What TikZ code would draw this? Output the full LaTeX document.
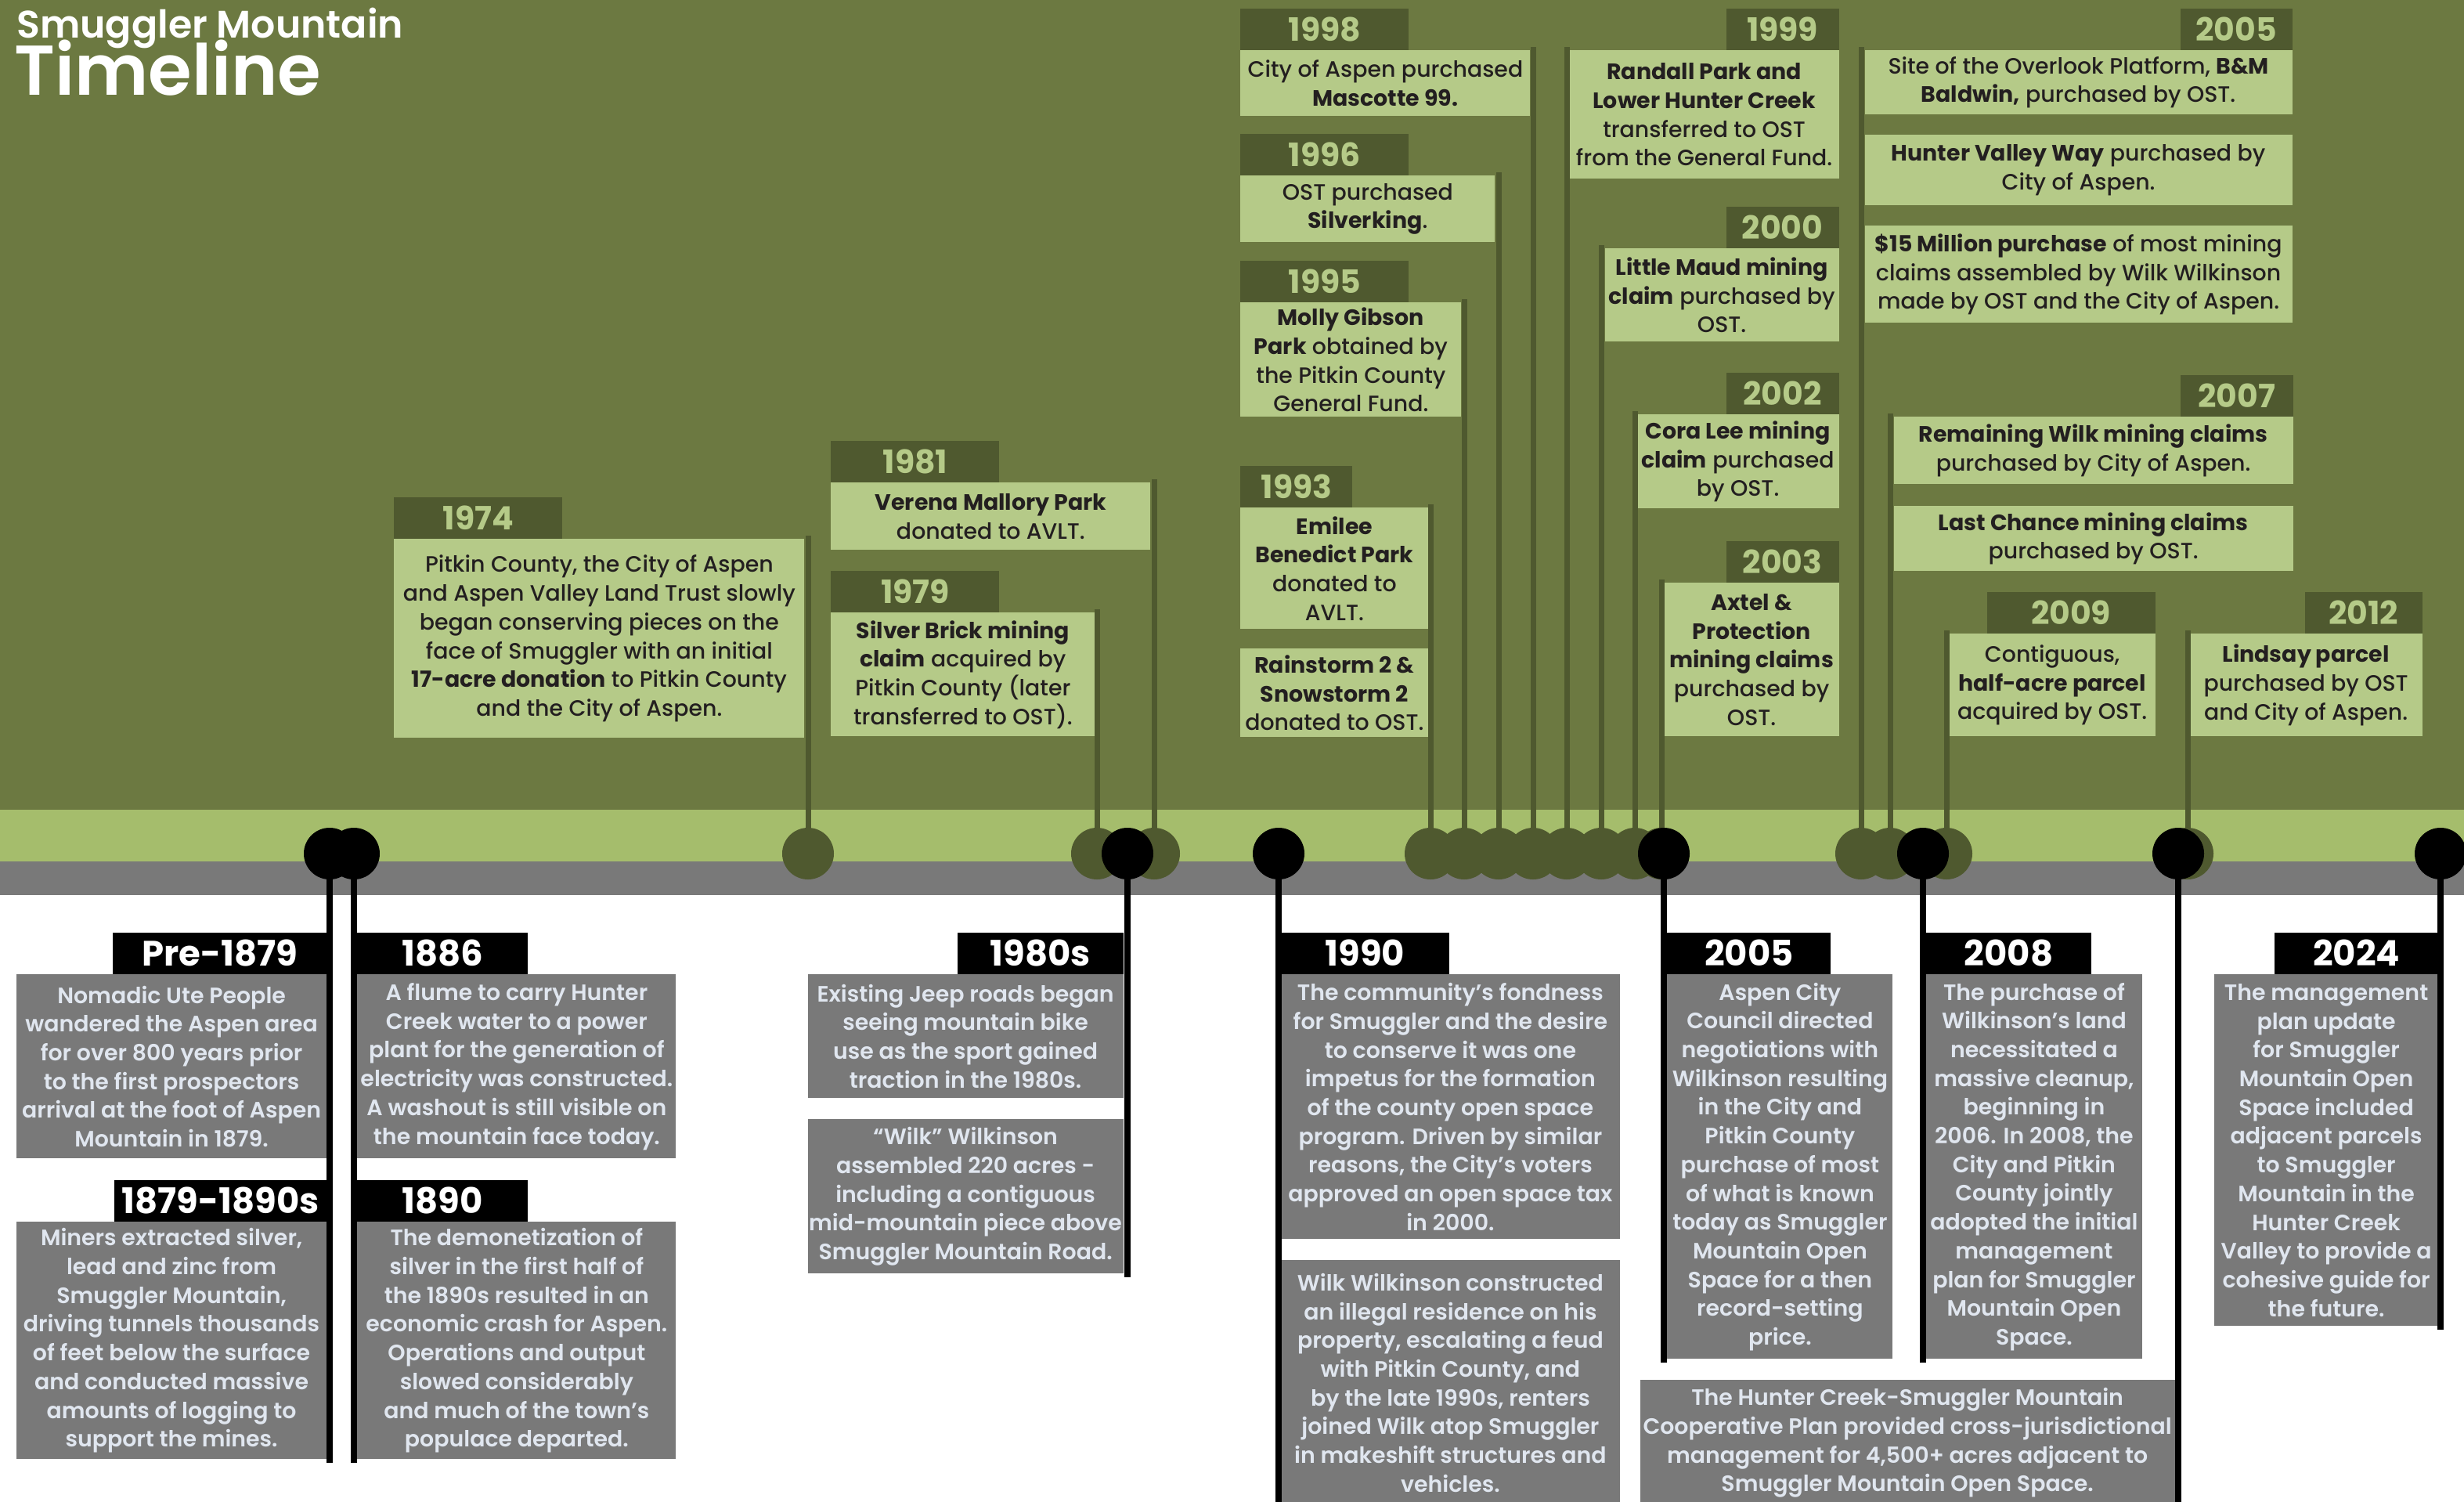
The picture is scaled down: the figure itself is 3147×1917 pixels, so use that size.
\documentclass[tikz,border=0pt]{standalone}
\usepackage{fontspec}
\setmainfont{Poppins}[UprightFont=* Medium, BoldFont=* Bold]
\newfontfamily\smsemi{Poppins}[UprightFont=* SemiBold, BoldFont=* Bold]

\definecolor{smolive}{RGB}{108,121,65}
\definecolor{smtab}{RGB}{79,89,47}
\definecolor{smbox}{RGB}{181,202,136}
\definecolor{smband}{RGB}{165,189,108}
\definecolor{smgray}{RGB}{121,121,121}
\definecolor{smink}{RGB}{35,31,32}
\definecolor{smpale}{RGB}{224,230,239}

\newcommand\smbody{\fontsize{14.2}{18.35}\selectfont}
\newcommand\smyear{\fontsize{20.5}{22}\selectfont\bfseries}
\newcommand\smdate{\fontsize{22.5}{24}\selectfont\bfseries}

\begin{document}
\begin{tikzpicture}[x=0.5pt, y=-0.5pt,
  tbox/.style={fill=smbox, text=smink, font=\smbody, align=center, inner sep=0pt},
  gbox/.style={fill=smgray, text=smpale, font=\smsemi\smbody, align=center, inner sep=0pt},
  ytab/.style={fill=smtab, text=smbox, font=\smyear, inner sep=0pt, minimum height=26.5pt},
  ktab/.style={fill=black, text=white, font=\smdate, inner sep=0pt, minimum height=26.5pt},
  gline/.style={draw=smtab, line width=3.5pt, shorten >=-2pt},
  kline/.style={draw=black, line width=4pt, shorten >=-2pt}]

  % Canvas and bands
  \useasboundingbox (0,0) rectangle (3147,1917);
  \clip (0,0) rectangle (3147,1917);
  \fill[white] (0,0) rectangle (3147,1917);
  \fill[smolive] (0,0) rectangle (3147,1034);
  \fill[smband] (0,1034) rectangle (3147,1100);
  \fill[smgray] (0,1100) rectangle (3147,1143);

  % Title
  \node[anchor=base west, inner sep=0pt, text=white, font=\smsemi\fontsize{24.5}{26}\selectfont] (title) at (21,48) {Smuggler Mountain};
  \node[anchor=base west, inner sep=0pt, text=white, font=\smsemi\fontsize{45}{50}\selectfont] (subtitle) at (18,121) {Timeline};

  % 1974
  \node[tbox, minimum width=262pt, minimum height=127pt, anchor=north west] (b1974) at (503,688) {Pitkin County, the City of Aspen\\and Aspen Valley Land Trust slowly\\began conserving pieces on the\\face of Smuggler with an initial\\\textbf{17-acre donation} to Pitkin County\\and the City of Aspen.};
  \node[ytab, minimum width=107.5pt, anchor=south west] (y1974) at (b1974.north west) {1974};

  % 1981 and 1979
  \node[tbox, minimum width=204pt, minimum height=43pt, anchor=north west] (b1981) at (1061,616) {\textbf{Verena Mallory Park}\\donated to AVLT.};
  \node[ytab, minimum width=107.5pt, anchor=south west] (y1981) at (b1981.north west) {1981};
  \node[tbox, minimum width=168.5pt, minimum height=79pt, anchor=north west] (b1979) at (1061,782) {\textbf{Silver Brick mining}\\\textbf{claim} acquired by\\Pitkin County (later\\transferred to OST).};
  \node[ytab, minimum width=107.5pt, anchor=south west] (y1979) at (b1979.north west) {1979};

  % 1993 to 1998
  \node[tbox, minimum width=120pt, minimum height=77.5pt, anchor=north west] (b1993) at (1584,648) {\textbf{Emilee}\\\textbf{Benedict Park}\\donated to\\AVLT.};
  \node[ytab, minimum width=71.5pt, anchor=south west] (y1993) at (b1993.north west) {1993};
  \node[tbox, minimum width=120pt, minimum height=56.5pt, anchor=north west] (b1993b) at (1584,828) {\textbf{Rainstorm 2 \&}\\\textbf{Snowstorm 2}\\donated to OST.};
  \node[tbox, minimum width=141pt, minimum height=73pt, anchor=north west] (b1995) at (1584,386) {\textbf{Molly Gibson}\\\textbf{Park} obtained by\\the Pitkin County\\General Fund.};
  \node[ytab, minimum width=107.5pt, anchor=south west] (y1995) at (b1995.north west) {1995};
  \node[tbox, minimum width=162.5pt, minimum height=42.5pt, anchor=north west] (b1996) at (1584,224) {OST purchased\\\textbf{Silverking}.};
  \node[ytab, minimum width=107.5pt, anchor=south west] (y1996) at (b1996.north west) {1996};
  \node[tbox, minimum width=185pt, minimum height=42pt, anchor=north west] (b1998) at (1584,64) {City of Aspen purchased\\\textbf{Mascotte 99.}};
  \node[ytab, minimum width=107.5pt, anchor=south west] (y1998) at (b1998.north west) {1998};

  % 1999 to 2003
  \node[tbox, minimum width=172pt, minimum height=82pt, anchor=north east] (b1999) at (2349,64) {\textbf{Randall Park and}\\\textbf{Lower Hunter Creek}\\transferred to OST\\from the General Fund.};
  \node[ytab, minimum width=72pt, anchor=south east] (y1999) at (b1999.north east) {1999};
  \node[tbox, minimum width=149.5pt, minimum height=59.5pt, anchor=north east] (b2000) at (2349,317) {\textbf{Little Maud mining}\\\textbf{claim} purchased by\\OST.};
  \node[ytab, minimum width=72pt, anchor=south east] (y2000) at (b2000.north east) {2000};
  \node[tbox, minimum width=129pt, minimum height=60pt, anchor=north east] (b2002) at (2349,529) {\textbf{Cora Lee mining}\\\textbf{claim} purchased\\by OST.};
  \node[ytab, minimum width=72pt, anchor=south east] (y2002) at (b2002.north east) {2002};
  \node[tbox, minimum width=111.5pt, minimum height=98pt, anchor=north east] (b2003) at (2349,744) {\textbf{Axtel \&}\\\textbf{Protection}\\\textbf{mining claims}\\purchased by\\OST.};
  \node[ytab, minimum width=72pt, anchor=south east] (y2003) at (b2003.north east) {2003};

  % 2005 and 2007
  \node[tbox, minimum width=273pt, minimum height=41pt, anchor=north east] (b2005) at (2928,64) {Site of the Overlook Platform, \textbf{B\&M}\\\textbf{Baldwin,} purchased by OST.};
  \node[ytab, minimum width=71.5pt, anchor=south east] (y2005) at (b2005.north east) {2005};
  \node[tbox, minimum width=273pt, minimum height=45pt, anchor=north east] (b2005b) at (2928,172) {\textbf{Hunter Valley Way} purchased by\\City of Aspen.};
  \node[tbox, minimum width=273pt, minimum height=62pt, anchor=north east] (b2005c) at (2928,288) {\textbf{\$15 Million purchase} of most mining\\claims assembled by Wilk Wilkinson\\made by OST and the City of Aspen.};
  \node[tbox, minimum width=255pt, minimum height=43pt, anchor=north east] (b2007) at (2929,532) {\textbf{Remaining Wilk mining claims}\\purchased by City of Aspen.};
  \node[ytab, minimum width=72pt, anchor=south east] (y2007) at (b2007.north east) {2007};
  \node[tbox, minimum width=255pt, minimum height=41.5pt, anchor=north east] (b2007b) at (2929,646) {\textbf{Last Chance mining claims}\\purchased by OST.};

  % 2009 and 2012
  \node[tbox, minimum width=131.5pt, minimum height=65.5pt, anchor=north east] (b2009) at (2753,809) {Contiguous,\\\textbf{half-acre parcel}\\acquired by OST.};
  \node[ytab, minimum width=107.5pt, anchor=south east] (y2009) at (b2009.north east) {2009};
  \node[tbox, minimum width=148.5pt, minimum height=65.5pt, anchor=north east] (b2012) at (3094,809) {\textbf{Lindsay parcel}\\purchased by OST\\and City of Aspen.};
  \node[ytab, minimum width=75pt, anchor=south east] (y2012) at (b2012.north east) {2012};

  % Pre-1879 and 1879-1890s
  \node[gbox, minimum width=198.5pt, minimum height=117.5pt, anchor=north east] (cpre) at (418,1244) {Nomadic Ute People\\wandered the Aspen area\\for over 800 years prior\\to the first prospectors\\arrival at the foot of Aspen\\Mountain in 1879.};
  \node[ktab, minimum width=137pt, anchor=south east] (tpre) at (cpre.north east) {Pre-1879};
  \node[gbox, minimum width=198.5pt, minimum height=151.5pt, anchor=north east] (c1879) at (418,1560) {Miners extracted silver,\\lead and zinc from\\Smuggler Mountain,\\driving tunnels thousands\\of feet below the surface\\and conducted massive\\amounts of logging to\\support the mines.};
  \node[ktab, minimum width=136pt, anchor=south east] (t1879) at (c1879.north east) {1879-1890s};

  % 1886 and 1890
  \node[gbox, minimum width=203.5pt, minimum height=117.5pt, anchor=north west] (c1886) at (456,1244) {A flume to carry Hunter\\Creek water to a power\\plant for the generation of\\electricity was constructed.\\A washout is still visible on\\the mountain face today.};
  \node[ktab, minimum width=109pt, anchor=south west] (t1886) at (c1886.north west) {1886};
  \node[gbox, minimum width=203.5pt, minimum height=151.5pt, anchor=north west] (c1890) at (456,1560) {The demonetization of\\silver in the first half of\\the 1890s resulted in an\\economic crash for Aspen.\\Operations and output\\slowed considerably\\and much of the town’s\\populace departed.};
  \node[ktab, minimum width=109pt, anchor=south west] (t1890) at (c1890.north west) {1890};

  % 1980s
  \node[gbox, minimum width=201.5pt, minimum height=79pt, anchor=north east] (c1980a) at (1435,1244) {Existing Jeep roads began\\seeing mountain bike\\use as the sport gained\\traction in the 1980s.};
  \node[ktab, minimum width=106pt, anchor=south east] (t1980) at (c1980a.north east) {1980s};
  \node[gbox, minimum width=201.5pt, minimum height=98.5pt, anchor=north east] (c1980b) at (1435,1429) {“Wilk” Wilkinson\\assembled 220 acres -\\including a contiguous\\mid-mountain piece above\\Smuggler Mountain Road.};

  % 1990
  \node[gbox, minimum width=217pt, minimum height=169pt, anchor=north west] (c1990a) at (1635,1244) {The community’s fondness\\for Smuggler and the desire\\to conserve it was one\\impetus for the formation\\of the county open space\\program. Driven by similar\\reasons, the City’s voters\\approved an open space tax\\in 2000.};
  \node[ktab, minimum width=108pt, anchor=south west] (t1990) at (c1990a.north west) {1990};
  \node[gbox, minimum width=217pt, minimum height=156.5pt, anchor=north west] (c1990b) at (1635,1609) {Wilk Wilkinson constructed\\an illegal residence on his\\property, escalating a feud\\with Pitkin County, and\\by the late 1990s, renters\\joined Wilk atop Smuggler\\in makeshift structures and\\vehicles.};

  % 2005 and 2008
  \node[gbox, minimum width=144pt, minimum height=245.5pt, anchor=north west] (c2005) at (2129,1244) {Aspen City\\Council directed\\negotiations with\\Wilkinson resulting\\in the City and\\Pitkin County\\purchase of most\\of what is known\\today as Smuggler\\Mountain Open\\Space for a then\\record-setting\\price.};
  \node[ktab, minimum width=104.5pt, anchor=south west] (t2005) at (c2005.north west) {2005};
  \node[gbox, minimum width=138.5pt, minimum height=245.5pt, anchor=north west] (c2008) at (2459,1244) {The purchase of\\Wilkinson’s land\\necessitated a\\massive cleanup,\\beginning in\\2006. In 2008, the\\City and Pitkin\\County jointly\\adopted the initial\\management\\plan for Smuggler\\Mountain Open\\Space.};
  \node[ktab, minimum width=106pt, anchor=south west] (t2008) at (c2008.north west) {2008};

  % Cooperative plan
  \node[gbox, minimum width=341.5pt, minimum height=80pt, anchor=north east] (cplan) at (2778,1762) {The Hunter Creek-Smuggler Mountain\\Cooperative Plan provided cross-jurisdictional\\management for 4,500+ acres adjacent to\\Smuggler Mountain Open Space.};

  % 2024
  \node[gbox, minimum width=143.5pt, minimum height=224.5pt, anchor=north east] (c2024) at (3115,1244) {The management\\plan update\\for Smuggler\\Mountain Open\\Space included\\adjacent parcels\\to Smuggler\\Mountain in the\\Hunter Creek\\Valley to provide a\\cohesive guide for\\the future.};
  \node[ktab, minimum width=105pt, anchor=south east] (t2024) at (c2024.north east) {2024};

  % Points on the band
  \coordinate (d1974) at (1032,1090);
  \coordinate (d1979) at (1401,1090);
  \coordinate (d1981) at (1474,1090);
  \coordinate (d1993) at (1827,1090);
  \coordinate (d1995) at (1870,1090);
  \coordinate (d1996) at (1914,1090);
  \coordinate (d1998) at (1958,1090);
  \coordinate (d1999) at (2001,1090);
  \coordinate (d2000) at (2045,1090);
  \coordinate (d2002) at (2088,1090);
  \coordinate (d2003) at (2122,1090);
  \coordinate (d2005) at (2377,1090);
  \coordinate (d2007) at (2414,1090);
  \coordinate (d2009) at (2486,1090);
  \coordinate (d2012) at (2794,1090);
  \coordinate (kpre) at (421,1090);
  \coordinate (k1886) at (452,1090);
  \coordinate (k1980) at (1440,1090);
  \coordinate (k1990) at (1633,1090);
  \coordinate (k2005) at (2125,1090);
  \coordinate (k2008) at (2456,1090);
  \coordinate (kplan) at (2782,1090);
  \coordinate (k2024) at (3117,1090);

  % Green dots and stems
  \fill[smtab] (d1974) circle (16.5pt);
  \fill[smtab] (d1979) circle (16.5pt);
  \fill[smtab] (d1981) circle (16.5pt);
  \fill[smtab] (d1993) circle (16.5pt);
  \fill[smtab] (d1995) circle (16.5pt);
  \fill[smtab] (d1996) circle (16.5pt);
  \fill[smtab] (d1998) circle (16.5pt);
  \fill[smtab] (d1999) circle (16.5pt);
  \fill[smtab] (d2000) circle (16.5pt);
  \fill[smtab] (d2002) circle (16.5pt);
  \fill[smtab] (d2003) circle (16.5pt);
  \fill[smtab] (d2005) circle (16.5pt);
  \fill[smtab] (d2007) circle (16.5pt);
  \fill[smtab] (d2009) circle (16.5pt);
  \fill[smtab] (d2012) circle (16.5pt);
  \draw[gline] (d1974) -- (d1974 |- b1974.north);
  \draw[gline] (d1979) -- (d1979 |- b1979.north);
  \draw[gline] (d1981) -- (d1981 |- b1981.north);
  \draw[gline] (d1993) -- (d1993 |- b1993.north);
  \draw[gline] (d1995) -- (d1995 |- b1995.north);
  \draw[gline] (d1996) -- (d1996 |- b1996.north);
  \draw[gline] (d1998) -- (d1998 |- b1998.north);
  \draw[gline] (d1999) -- (d1999 |- b1999.north);
  \draw[gline] (d2000) -- (d2000 |- b2000.north);
  \draw[gline] (d2002) -- (d2002 |- b2002.north);
  \draw[gline] (d2003) -- (d2003 |- b2003.north);
  \draw[gline] (d2005) -- (d2005 |- b2005.north);
  \draw[gline] (d2007) -- (d2007 |- b2007.north);
  \draw[gline] (d2009) -- (d2009 |- b2009.north);
  \draw[gline] (d2012) -- (d2012 |- b2012.north);

  % Black dots and stems
  \fill (kpre) circle (16.5pt);
  \fill (k1886) circle (16.5pt);
  \fill (k1980) circle (16.5pt);
  \fill (k1990) circle (16.5pt);
  \fill (k2005) circle (16.5pt);
  \fill (k2008) circle (16.5pt);
  \fill (kplan) circle (16.5pt);
  \fill (k2024) circle (16.5pt);
  \draw[kline] (kpre) -- (kpre |- c1879.south);
  \draw[kline] (k1886) -- (k1886 |- c1890.south);
  \draw[kline] (k1980) -- (k1980 |- c1980b.south);
  \draw[kline] (k1990) -- (k1990 |- c1990b.south);
  \draw[kline] (k2005) -- (k2005 |- c2005.south);
  \draw[kline] (k2008) -- (k2008 |- c2008.south);
  \draw[kline] (kplan) -- (kplan |- cplan.south);
  \draw[kline] (k2024) -- (k2024 |- c2024.south);
\end{tikzpicture}
\end{document}
